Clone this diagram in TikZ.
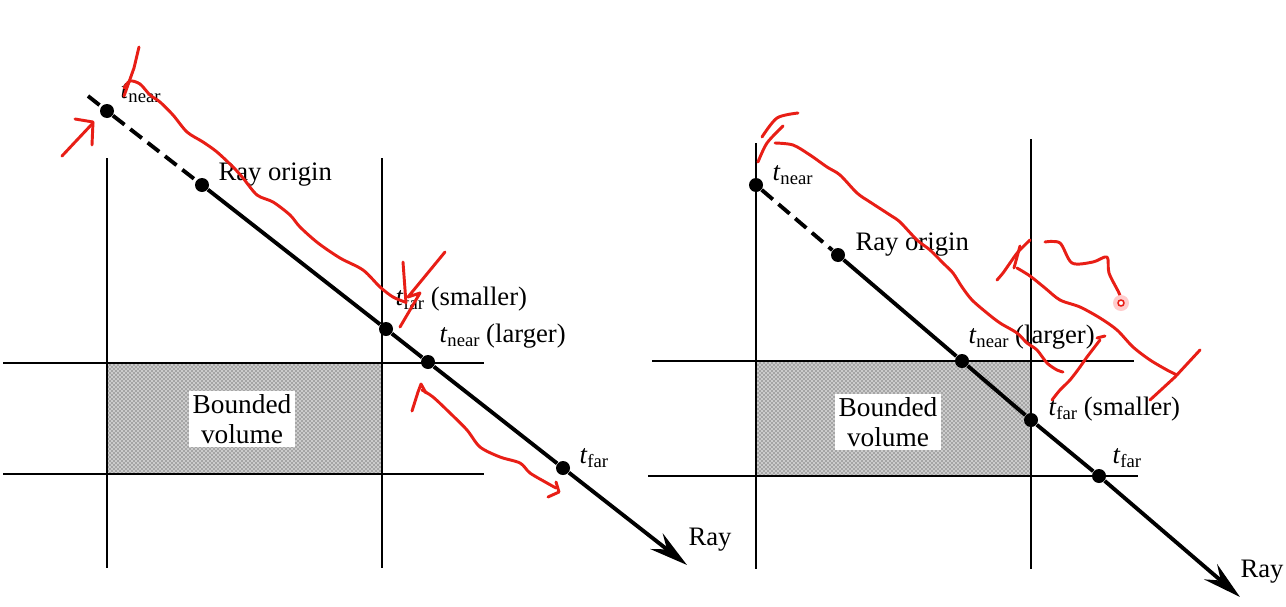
\documentclass[tikz,border=0pt]{standalone}
\usepackage{fontspec}
\setmainfont{Liberation Serif}
\usetikzlibrary{arrows.meta,patterns}

\tikzset{every picture/.style={line width=0.75pt}}
\newcommand{\tlab}[1]{\textit{t}\raisebox{-3pt}{\fontsize{14}{14}\selectfont #1}}

\begin{document}
\begin{tikzpicture}[x=0.75pt,y=0.75pt,yscale=-1,xscale=1,
  grid/.style={line width=1.3pt},
  vol/.style={preaction={fill=gray!40},pattern=crosshatch dots,pattern color=black!85},
  ray/.style={line width=2.9pt},
  rayback/.style={line width=2.9pt,dash pattern=on 11pt off 5.5pt},
  hit/.style={circle,fill=black,inner sep=0pt,minimum size=10.5pt},
  lbl/.style={anchor=base west,inner sep=0pt,font=\fontsize{20}{24}\selectfont},
  boxlbl/.style={fill=white,align=center,inner sep=3pt,font=\fontsize{20.5}{22}\selectfont},
  pen/.style={draw={rgb,255:red,232;green,30;blue,22},line width=2.2pt,line cap=round,line join=round}]
	%set diagram to the size of the screenshot
	\fill[white] (0,0) rectangle (1286,607);
	\useasboundingbox (0,0) rectangle (1286,607);
	
	%%%%%%%% left case: t_far of one slab before t_near of the other
	%Shape: Rectangle
	\fill[vol] (107,363) rectangle (382,474);
	%Straight Lines
	\draw[grid] (107,158) -- (107,568);
	\draw[grid] (382,158) -- (382,568);
	\draw[grid] (3,363) -- (484,363);
	\draw[grid] (3,474) -- (484,474);
	
	% Text Node
	\node[boxlbl] (volA) at (242,419) {Bounded\\volume};
	
	% hit points
	\coordinate (startA) at (88,96);
	\node[hit] (nearA) at (107,111) {};
	\node[hit] (originA) at (202,185) {};
	\node[hit] (farsA) at (386,329) {};
	\node[hit] (nearlA) at (428,362) {};
	\node[hit] (farA) at (563,468) {};
	\coordinate (endA) at (687,565);
	
	%Ray
	\draw[rayback] (startA) -- (nearA) -- (originA);
	\draw[ray,-{Stealth[length=29pt,width=15pt,inset=10pt]}] (originA) -- (farsA) -- (nearlA) -- (farA) -- (endA);
	
	% Text Node
	\node[lbl] (tnearA) at (120,98) {\tlab{near}};
	% Text Node
	\node[lbl] (rayoriginA) at (218,180) {Ray origin};
	% Text Node
	\node[lbl] (tfarsA) at (395,305) {\tlab{far} (smaller)};
	% Text Node
	\node[lbl] (tnearlA) at (439,342) {\tlab{near} (larger)};
	% Text Node
	\node[lbl] (tfarA) at (579,463) {\tlab{far}};
	% Text Node
	\node[lbl] (rayA) at (688,545) {Ray};
	
	%%%%%%%% right case: t_near (larger) before t_far (smaller)
	%Shape: Rectangle
	\fill[vol] (756,361) rectangle (1031,476);
	%Straight Lines
	\draw[grid] (756,143) -- (756,569);
	\draw[grid] (1031,139) -- (1031,569);
	\draw[grid] (652,361) -- (1134,361);
	\draw[grid] (648,476) -- (1138,476);
	
	% Text Node
	\node[boxlbl] (volB) at (888,422) {Bounded\\volume};
	
	% hit points
	\node[hit] (nearB) at (756,185) {};
	\node[hit] (originB) at (838,255) {};
	\node[hit] (nearlB) at (962,361) {};
	\node[hit] (farsB) at (1031,420) {};
	\node[hit] (farB) at (1099,476) {};
	\coordinate (endB) at (1240,597);
	
	%Ray
	\draw[rayback] (nearB) -- (originB);
	\draw[ray,-{Stealth[length=29pt,width=15pt,inset=10pt]}] (originB) -- (nearlB) -- (farsB) -- (farB) -- (endB);
	
	% Text Node
	\node[lbl] (tnearB) at (772,180) {\tlab{near}};
	% Text Node
	\node[lbl] (rayoriginB) at (855,250) {Ray origin};
	% Text Node
	\node[lbl] (tnearlB) at (968,343) {\tlab{near} (larger)};
	% Text Node
	\node[lbl] (tfarsB) at (1048,415) {\tlab{far} (smaller)};
	% Text Node
	\node[lbl] (tfarB) at (1112,463) {\tlab{far}};
	% Text Node
	\node[lbl] (rayB) at (1240,577) {Ray};
	
	%%%%%%%% red pen marks
	\draw[pen] (139,47) -- (134,68) -- (124,96);
	\draw[pen] plot[smooth] coordinates {(124,88) (130,81) (140,84) (150,95) (160,102) (173,115) (187,132) (203,142) (217,152) (233,167) (243,178) (257,195) (273,202) (290,215) (300,227) (318,243) (340,258) (363,270) (380,287) (393,297) (405,302)};
	\draw[pen] (62,156) -- (77,140) -- (93,123);
	\draw[pen] (75,119) -- (93,122) -- (92,145);
	\draw[pen] (403,262) -- (406,303);
	\draw[pen] (445,252) -- (408,297) -- (420,293) -- (400,327);
	\draw[pen] (412,411) -- (418,392) -- (421,384) -- (426,393);
	\draw[pen] plot[smooth] coordinates {(422,390) (433,397) (450,413) (467,430) (480,447) (500,457) (520,463) (530,473) (547,483) (556,488)};
	\draw[pen] (548,497) -- (559,492) -- (556,482);
	
	\draw[pen] plot[smooth] coordinates {(762,137) (777,118) (798,113)};
	\draw[pen] plot[smooth] coordinates {(758,162) (767,143) (783,126)};
	\draw[pen] plot[smooth] coordinates {(775,143) (793,145) (810,155) (827,167) (840,175) (857,193) (870,202) (890,215) (900,222) (917,240) (930,250) (943,263) (953,273) (962,287) (972,300) (987,313) (1000,323) (1017,333) (1027,343) (1037,350) (1047,363) (1057,370) (1063,372)};
	\draw[pen] plot[smooth] coordinates {(1030,240) (1018,252) (1010,263) (1003,273) (997,280)};
	\draw[pen] (1020,246) -- (1014,268);
	\draw[pen] plot[smooth] coordinates {(1017,268) (1030,276) (1045,288) (1060,300) (1080,307) (1100,318) (1117,330) (1133,347) (1150,360) (1167,370) (1177,375)};
	\draw[pen] (1200,350) -- (1175,377) -- (1150,400);
	\draw[pen] plot[smooth] coordinates {(1045,242) (1060,243) (1072,263) (1093,262) (1107,257) (1109,273) (1119,293) (1121,300)};
	\draw[pen] (1097,338) -- (1105,336);
	\draw[pen] plot[smooth] coordinates {(1100,340) (1087,357) (1080,367) (1070,380) (1060,390) (1052,400)};
	\fill[red!20] (1121,303) circle[radius=8];
	\draw[pen,line width=1.2pt,fill=white] (1121,303) circle[radius=3];
	
\end{tikzpicture}
\end{document}
